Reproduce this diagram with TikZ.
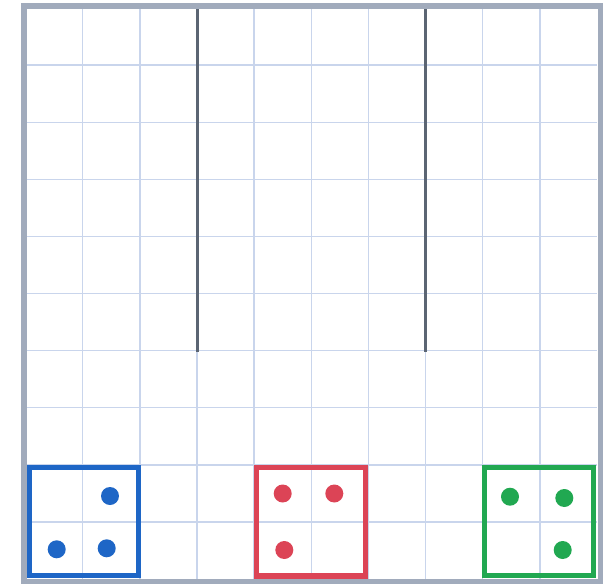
\documentclass[tikz,border=0pt]{standalone}
\begin{document}
\begin{tikzpicture}[x=1pt,y=-1pt,
  gridline/.style={draw=gridblue,line width=1.4pt},
  wall/.style={draw=wallgray,line width=3pt},
  frame/.style={draw=framegray,line width=5.5pt},
  zone/.style={line width=5.5pt},
  dot/.style={circle,inner sep=0pt,minimum size=18pt}]
\definecolor{gridblue}{HTML}{C9D5EC}
\definecolor{wallgray}{HTML}{5B6573}
\definecolor{framegray}{HTML}{A1ABBC}
\definecolor{zblue}{HTML}{1E66C6}
\definecolor{zred}{HTML}{DC4456}
\definecolor{zgreen}{HTML}{21A851}
\useasboundingbox (0,0) rectangle (603,584);
\fill[white] (0,0) rectangle (603,584);
% grid
\foreach \i in {1,...,9}{
  \draw[gridline] ({25.5+57.15*\i},8) -- ({25.5+57.15*\i},579);
  \draw[gridline] (25.5,{8+57.1*\i}) -- (597,{8+57.1*\i});
}
% walls
\draw[wall] (197,8) -- (197,351.5);
\draw[wall] (425.5,8) -- (425.5,351.5);
% frame
\draw[frame] (23.75,5.75) rectangle (600.25,581.25);
% zones
\draw[zone,draw=zblue] (29.5,467.3) rectangle (138.5,575.5);
\draw[zone,draw=zred] (256.7,467.3) rectangle (365.5,576);
\draw[zone,draw=zgreen] (484.5,467.3) rectangle (593.5,575.5);
% dots
\node[dot,fill=zblue] (b1) at (110,496) {};
\node[dot,fill=zblue] (b2) at (56.7,549.3) {};
\node[dot,fill=zblue] (b3) at (106.7,548.3) {};
\node[dot,fill=zred] (r1) at (282.7,493.5) {};
\node[dot,fill=zred] (r2) at (334.3,493.5) {};
\node[dot,fill=zred] (r3) at (284.3,550) {};
\node[dot,fill=zgreen] (g1) at (510,496.7) {};
\node[dot,fill=zgreen] (g2) at (564.3,498) {};
\node[dot,fill=zgreen] (g3) at (562.7,550) {};
\end{tikzpicture}
\end{document}
